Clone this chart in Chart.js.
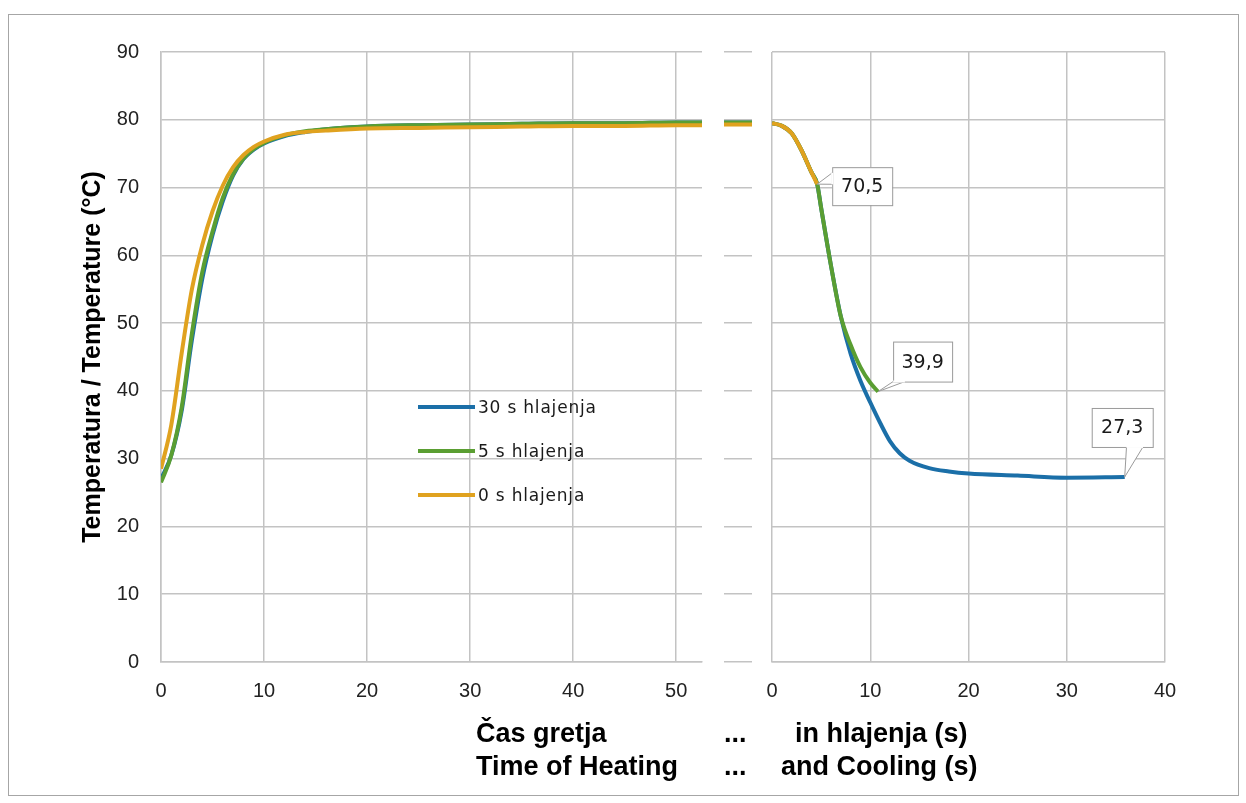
<!DOCTYPE html>
<html>
<head>
<meta charset="utf-8">
<script src="https://cdn.jsdelivr.net/npm/chart.js"></script>
<style>
  body { margin: 0; background: #fff; }
  #wrap { position: relative; width: 1246px; height: 803px; overflow: hidden; background: #fff; }
  .frame { position: absolute; left: 8px; top: 14px; width: 1229px; height: 780px; border: 1px solid #a6a6a6; }
  canvas { position: absolute; top: 0; }
  #legend { position: absolute; left: 418px; top: 385px; font: 17px 'DejaVu Sans', sans-serif; letter-spacing: 0.8px; color: #1a1a1a; }
  .leg-row { display: flex; align-items: center; height: 44px; }
  .leg-line { width: 57px; height: 4px; margin-right: 3px; }
  .xlab { position: absolute; font: bold 27px 'Liberation Sans', Arial, sans-serif; color: #000; white-space: pre; line-height: 32px; }
</style>
</head>
<body>
<div id="wrap">
  <div class="frame"></div>
  <canvas id="heatChart"></canvas>
  <canvas id="gapChart"></canvas>
  <canvas id="coolChart"></canvas>
  <div id="legend"></div>
  <div class="xlab" style="left:476px; top:717px;">Čas gretja</div>
  <div class="xlab" style="left:724px; top:717px;">...</div>
  <div class="xlab" style="left:795px; top:717px;">in hlajenja (s)</div>
  <div class="xlab" style="left:476px; top:750px;">Time of Heating</div>
  <div class="xlab" style="left:724px; top:750px;">...</div>
  <div class="xlab" style="left:781px; top:750px;">and Cooling (s)</div>
</div>
<script>
// Series (legend order)
const seriesNames = ['30 s hlajenja', '5 s hlajenja', '0 s hlajenja'];
const seriesColors = ['#1b6fa8', '#5a9e32', '#e0a21f'];

// Tick labels
const heatTicks = [0, 10, 20, 30, 40, 50];
const coolTicks = [0, 10, 20, 30, 40];
const tempTicks = [0, 10, 20, 30, 40, 50, 60, 70, 80, 90];

// Heating phase (left panel), time in s
const heatTime = [0, 1, 2, 3, 4, 5, 6, 7, 8, 9, 10, 12, 14, 16, 20, 25, 30, 35, 40, 45, 50, 52.5];
const heat30 = [27, 30.5, 37, 47.5, 56.5, 63, 68, 71.8, 74.2, 75.6, 76.5, 77.6, 78.2, 78.6, 79, 79.2, 79.3, 79.4, 79.5, 79.5, 79.6, 79.6];
const heat5 = [26.5, 30.5, 37.5, 48.5, 57.5, 63.5, 68.5, 72, 74.3, 75.7, 76.6, 77.7, 78.3, 78.6, 79, 79.2, 79.3, 79.4, 79.5, 79.5, 79.6, 79.6];
const heat0 = [28.5, 35, 45.5, 55, 61.5, 66.5, 70.3, 73, 74.8, 76, 76.8, 77.8, 78.2, 78.4, 78.7, 78.8, 78.9, 79, 79.1, 79.1, 79.2, 79.2];

// Continuation of the plateau in the axis break ("...")
const gapTime = [0, 1];
const gap30 = [79.6, 79.6];
const gap5 = [79.6, 79.6];
const gap0 = [79.3, 79.3];

// Cooling phase (right panel)
const coolTime30 = [0, 1, 2, 3, 4, 4.6, 5, 6, 7, 8, 9, 10, 11, 12, 13, 14, 16, 18, 20, 25, 30, 35.9];
const cool30 = [79.5, 79.1, 78, 75.5, 72.3, 70.5, 67, 58.5, 51, 45.5, 41.5, 38.3, 35.3, 32.6, 30.8, 29.7, 28.6, 28.1, 27.8, 27.5, 27.2, 27.3];
const coolTime5 = [0, 1, 2, 3, 4, 4.6, 5, 6, 7, 8, 9, 10, 10.8];
const cool5 = [79.5, 79.1, 78, 75.5, 72.3, 70.5, 67, 58.5, 51, 46.8, 43.5, 41.2, 39.9];
const coolTime0 = [0, 1, 2, 3, 4, 4.6];
const cool0 = [79.5, 79.1, 78, 75.5, 72.3, 70.5];

const yTitle = 'Temperatura / Temperature (°C)';

// callout boxes for the end values of the cooling curves (offset from the point)
const calloutBoxes = {
  '0 s hlajenja': { dx: 15, dy: -17, w: 60, h: 38, edge: 'left', a: 0.15, b: 0.45 },
  '5 s hlajenja': { dx: 15, dy: -50, w: 59, h: 40, edge: 'bottom', a: 0.0, b: 0.2 },
  '30 s hlajenja': { dx: -33, dy: -69, w: 61, h: 39, edge: 'bottom', a: 0.57, b: 0.84 }
};

const gridColor = '#c3c3c3';
const tickFont = { family: 'Liberation Sans', size: 20 };

function pairs(xs, ys) {
  return xs.map((x, i) => ({ x: x, y: ys[i] }));
}

function makeDatasets(xsList, ysList) {
  // orange on top, then green, then blue
  const orders = [2, 1, 0];
  return seriesNames.map((name, i) => ({
    label: name,
    data: pairs(xsList[i], ysList[i]),
    borderColor: seriesColors[i],
    backgroundColor: seriesColors[i],
    borderWidth: 4,
    pointRadius: 0,
    cubicInterpolationMode: 'monotone',
    order: orders[i]
  }));
}

function yAxis(showLabels, width) {
  return {
    min: tempTicks[0],
    max: tempTicks[tempTicks.length - 1],
    afterBuildTicks: s => { s.ticks = tempTicks.map(v => ({ value: v })); },
    ticks: { display: showLabels, padding: 22, color: '#222', font: tickFont },
    grid: { color: gridColor, lineWidth: 1.5, drawTicks: false },
    border: { display: showLabels || width > 0, color: gridColor, width: 1.5 },
    title: {
      display: showLabels,
      text: yTitle,
      color: '#000',
      font: { family: 'Liberation Sans', size: 25, weight: 'bold' },
      padding: { top: 8, bottom: 0 }
    },
    afterFit: s => { s.width = width; }
  };
}

function xAxis(max, tickValues) {
  return {
    type: 'linear',
    min: 0,
    max: max,
    afterBuildTicks: s => { s.ticks = tickValues.map(v => ({ value: v })); },
    ticks: { padding: 17, color: '#222', font: tickFont, maxRotation: 0, autoSkip: false },
    grid: { color: gridColor, lineWidth: 1.5, drawTicks: false },
    border: { color: gridColor, width: 1.5 },
    afterFit: s => { s.height = 50; }
  };
}

const baseOptions = {
  responsive: false,
  animation: false,
  events: [],
  plugins: { legend: { display: false }, tooltip: { enabled: false } }
};

function setSize(id, left, width) {
  const c = document.getElementById(id);
  c.width = width;
  c.height = 803;
  c.style.left = left + 'px';
  c.style.width = width + 'px';
  c.style.height = '803px';
  return c;
}

const calloutPlugin = {
  id: 'callouts',
  afterDatasetsDraw(chart) {
    const ctx = chart.ctx;
    chart.data.datasets.forEach((ds, i) => {
      const cfg = calloutBoxes[ds.label];
      if (!cfg) return;
      const meta = chart.getDatasetMeta(i);
      const pt = meta.data[meta.data.length - 1];
      const value = ds.data[ds.data.length - 1].y;
      const bx = pt.x + cfg.dx, by = pt.y + cfg.dy;
      let p1, p2;
      if (cfg.edge === 'left') {
        p1 = [bx, by + cfg.h * cfg.a];
        p2 = [bx, by + cfg.h * cfg.b];
      } else {
        p1 = [bx + cfg.w * cfg.a, by + cfg.h];
        p2 = [bx + cfg.w * cfg.b, by + cfg.h];
      }
      ctx.save();
      ctx.lineWidth = 1;
      ctx.strokeStyle = '#9a9a9a';
      ctx.fillStyle = '#fff';
      ctx.beginPath();
      ctx.moveTo(p1[0], p1[1]);
      ctx.lineTo(pt.x, pt.y);
      ctx.lineTo(p2[0], p2[1]);
      ctx.closePath();
      ctx.fill();
      ctx.stroke();
      ctx.fillRect(bx, by, cfg.w, cfg.h);
      ctx.strokeRect(bx + 0.5, by + 0.5, cfg.w, cfg.h);
      // open the box edge where the pointer joins
      ctx.beginPath();
      ctx.moveTo(p1[0], p1[1]);
      ctx.lineTo(p2[0], p2[1]);
      ctx.strokeStyle = '#fff';
      ctx.lineWidth = 2;
      ctx.stroke();
      ctx.fillStyle = '#1a1a1a';
      ctx.font = '19px "DejaVu Sans"';
      ctx.textAlign = 'center';
      ctx.textBaseline = 'middle';
      ctx.fillText(String(value).replace('.', ','), bx + cfg.w / 2, by + cfg.h / 2 + 1);
      ctx.restore();
    });
  }
};

// Left panel: heating
new Chart(setSize('heatChart', 0, 712), {
  type: 'line',
  data: { datasets: makeDatasets([heatTime, heatTime, heatTime], [heat30, heat5, heat0]) },
  options: Object.assign({}, baseOptions, {
    layout: { padding: { left: 70, right: 10, top: 52, bottom: 91 } },
    scales: { x: xAxis(52.5, heatTicks), y: yAxis(true, 91) }
  })
});

// Axis break: only the horizontal grid and the lines
new Chart(setSize('gapChart', 712, 50), {
  type: 'line',
  data: { datasets: makeDatasets([gapTime, gapTime, gapTime], [gap30, gap5, gap0]) },
  options: Object.assign({}, baseOptions, {
    layout: { padding: { left: 12, right: 10, top: 52, bottom: 141 } },
    scales: {
      x: { type: 'linear', min: 0, max: 1, display: false },
      y: yAxis(false, 0)
    }
  })
});

// Right panel: cooling
new Chart(setSize('coolChart', 740, 506), {
  type: 'line',
  data: { datasets: makeDatasets([coolTime30, coolTime5, coolTime0], [cool30, cool5, cool0]) },
  options: Object.assign({}, baseOptions, {
    layout: { padding: { left: 32, right: 81, top: 52, bottom: 91 } },
    scales: { x: xAxis(40, coolTicks), y: yAxis(false, 0) }
  }),
  plugins: [calloutPlugin]
});

// Legend
const legend = document.getElementById('legend');
seriesNames.forEach((name, i) => {
  const row = document.createElement('div');
  row.className = 'leg-row';
  const line = document.createElement('span');
  line.className = 'leg-line';
  line.style.background = seriesColors[i];
  const txt = document.createElement('span');
  txt.textContent = name;
  row.appendChild(line);
  row.appendChild(txt);
  legend.appendChild(row);
});
</script>
</body>
</html>
